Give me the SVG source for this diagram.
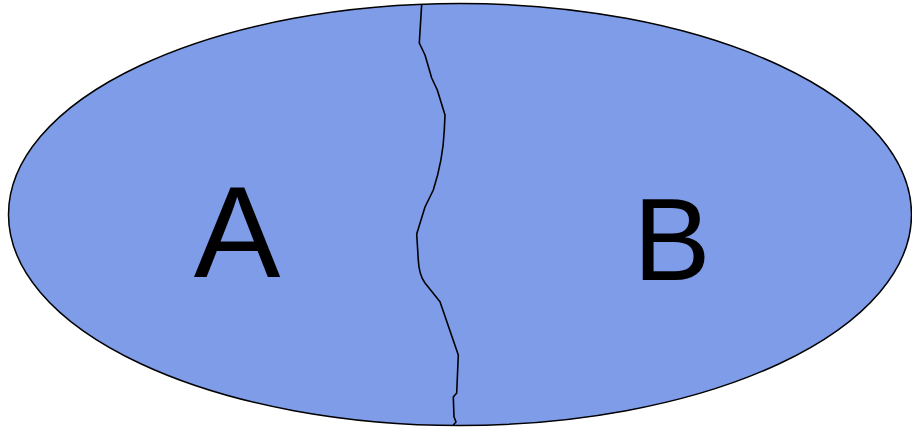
<svg xmlns="http://www.w3.org/2000/svg" width="912" height="428" viewBox="0 0 912 428">
<style>
.lbl{font-family:"Liberation Sans",Arial,sans-serif;fill:#000;text-anchor:middle}
</style>
<rect width="912" height="428" fill="#fff"/>
<g id="region">
<ellipse cx="460" cy="214.5" rx="451.5" ry="211" fill="#7f9ce8" stroke="#000" stroke-width="1.5"/>
</g>
<g id="connectors">
<path d="M421.7,4 L419.3,43 L425,55 L431.7,78 L437.3,90 L445,115 L444.3,130 Q443,160 433.3,190 L425,207 L416.7,234 L418.3,260 Q419,275 425,283 L440,301.7 L458.3,355 L456.7,393 L453.3,397 L454,416.7 L456,422 L453.3,425" fill="none" stroke="#000" stroke-width="1.6" stroke-linejoin="round"/>
</g>
<g id="A"><text class="lbl" x="237" y="277" font-size="130">A</text></g>
<g id="B"><text class="lbl" x="672" y="280" font-size="116">B</text></g>
</svg>
